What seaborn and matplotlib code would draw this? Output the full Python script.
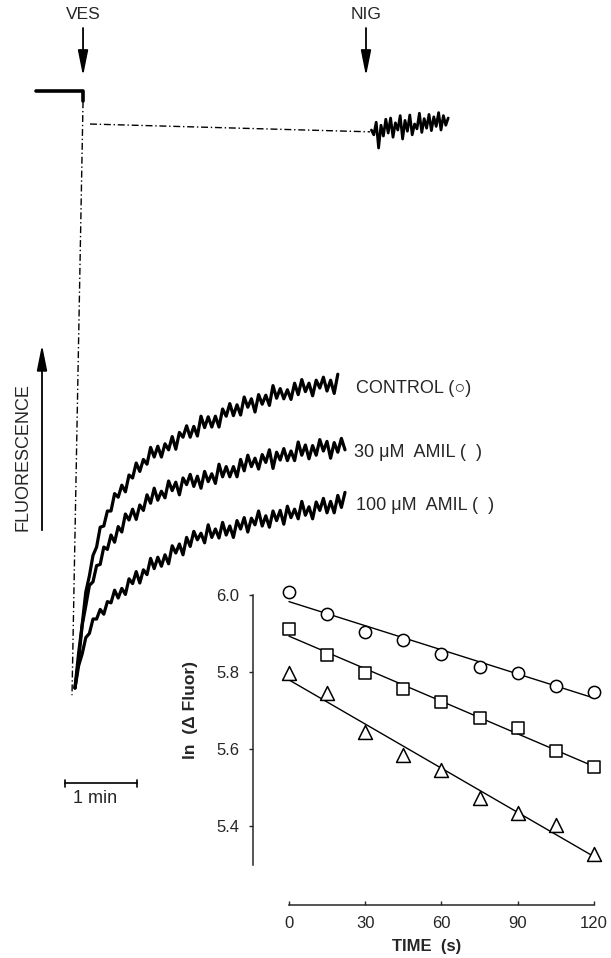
import numpy as np
import pandas as pd
import seaborn as sns
import matplotlib.pyplot as plt

# registro de fluorescencia (tempo em s, fluorescencia em unidades arbitrarias)
trace_t = [0, 3, 6, 9, 12, 15, 18, 21, 24, 27, 30, 33, 36, 39, 42, 45, 48, 51, 54, 57,
           60, 63, 66, 69, 72, 75, 78, 81, 84, 87, 90, 93, 96, 99, 102, 105, 108, 111, 114, 117,
           120, 123, 126, 129, 132, 135, 138, 141, 144, 147, 150, 153, 156, 159, 162, 165, 168, 171, 174, 177,
           180, 183, 186, 189, 192, 195, 198, 201, 204, 207, 210, 213, 216, 219, 222, 225]

control = [2.0, 7.8, 12.6, 18.0, 20.7, 24.1, 25.5, 28.8, 29.0, 31.5, 31.5, 34.4, 33.8, 35.8, 34.7, 37.5,
           37.0, 39.5, 38.1, 40.1, 39.3, 42.1, 40.5, 42.3, 40.5, 42.7, 41.7, 43.9, 41.8, 44.6, 43.8, 45.7,
           43.8, 45.6, 44.0, 47.3, 45.4, 47.2, 45.5, 47.3, 45.5, 48.5, 47.3, 49.4, 47.4, 49.2, 47.5, 50.5,
           48.8, 50.2, 48.0, 50.9, 49.3, 50.8, 49.1, 52.4, 50.3, 51.9, 50.2, 51.7, 50.1, 52.8, 50.9, 53.4,
           51.4, 52.8, 50.7, 53.3, 52.0, 53.8, 51.5, 53.3, 51.1, 54.3]

amil_30 = [2.0, 6.6, 12.5, 15.7, 19.1, 19.7, 22.4, 22.6, 25.5, 25.1, 27.5, 26.3, 28.9, 28.0, 31.0, 30.0,
           31.8, 30.1, 32.5, 31.6, 34.2, 32.8, 35.3, 33.3, 34.8, 33.7, 36.5, 34.9, 36.3, 34.2, 37.0, 35.9,
           37.6, 35.6, 37.3, 35.3, 38.1, 36.4, 37.7, 36.1, 39.3, 37.2, 38.9, 37.2, 38.9, 37.2, 40.1, 38.2,
           40.8, 38.9, 40.3, 38.5, 40.9, 39.6, 41.7, 38.6, 41.3, 40.0, 41.9, 39.9, 41.5, 39.9, 43.0, 40.8,
           42.5, 40.2, 42.4, 40.8, 43.4, 41.5, 43.1, 40.3, 42.9, 41.3, 43.6, 41.7]

amil_100 = [2.0, 5.7, 7.7, 10.4, 11.1, 13.5, 13.5, 15.1, 14.3, 16.4, 16.2, 18.3, 17.0, 18.6, 17.6, 20.2,
            19.4, 21.4, 19.5, 21.7, 20.9, 23.6, 21.9, 23.8, 22.3, 24.2, 22.7, 25.7, 24.5, 26.0, 24.2, 27.1,
            25.6, 28.1, 26.7, 27.8, 26.2, 29.2, 27.1, 28.5, 27.0, 29.6, 27.5, 29.0, 27.1, 29.9, 28.5, 30.4,
            28.0, 30.3, 29.2, 31.5, 29.0, 30.7, 28.8, 31.5, 29.9, 31.6, 29.3, 32.3, 30.4, 31.8, 30.2, 33.1,
            30.8, 32.2, 30.2, 33.0, 31.6, 33.6, 31.2, 33.1, 31.2, 34.1, 32.1, 34.6]

trace_labels = ["CONTROL (\u25cb)", "30 \u03bcM  AMIL (  )", "100 \u03bcM  AMIL (  )"]

# antes das vesiculas, linha de base e nigericina
base_t = [-32.5, 6.7, 6.7]
base_f = [101.5, 101.5, 99.8]
drop_t = [6.7, -2.5]
drop_f = [99.8, 0.8]
level_t = [12.5, 245.8]
level_f = [96.0, 94.7]
nig_t = [247, 249, 251, 253, 255, 257, 259, 261, 263, 265, 267, 269, 271, 273, 275, 277, 279,
         281, 283, 285, 287, 289, 291, 293, 295, 297, 299, 301, 303, 305, 307, 309, 311]
nig_f = [95.0, 94.2, 96.3, 92.0, 95.8, 94.0, 96.8, 94.5, 97.0, 93.8, 96.2, 95.0, 97.4, 93.5, 96.6, 94.8,
         97.5, 94.2, 96.0, 95.2, 97.8, 94.6, 96.9, 95.3, 97.6, 94.9, 97.2, 95.6, 97.9, 95.0, 97.4, 95.8, 97.0]

events = ["VES", "NIG"]
event_t = [6.7, 242.5]

# inserto: ln(delta fluor) x tempo
inset_t = [0, 15, 30, 45, 60, 75, 90, 105, 120]
ln_control = [6.007, 5.952, 5.905, 5.883, 5.847, 5.814, 5.797, 5.765, 5.749]
ln_30 = [5.912, 5.844, 5.797, 5.756, 5.723, 5.680, 5.654, 5.596, 5.554]
ln_100 = [5.797, 5.745, 5.645, 5.584, 5.545, 5.472, 5.433, 5.403, 5.327]

sns.set_style("ticks")
plt.rcParams["font.family"] = ["Liberation Sans", "DejaVu Sans"]

fig = plt.figure(figsize=(6.11, 9.58), dpi=100)

# painel principal (registro)
ax = fig.add_axes([0, 0, 1, 1])
ax.set_xlim(-62.5, 446.67)
ax.set_ylim(-43, 116.67)
ax.axis("off")

dashdot = (0, (5, 2, 1, 2))
for vals in [control, amil_30, amil_100]:
    sns.lineplot(x=trace_t[:len(vals)], y=vals, ax=ax, color="black", lw=2.3,
                 sort=False, estimator=None)

sns.lineplot(x=base_t, y=base_f, ax=ax, color="black", lw=2.6, sort=False, estimator=None)
sns.lineplot(x=drop_t, y=drop_f, ax=ax, color="black", lw=1.0, linestyle=dashdot,
             sort=False, estimator=None)
sns.lineplot(x=level_t, y=level_f, ax=ax, color="black", lw=1.0, linestyle=dashdot,
             sort=False, estimator=None)
sns.lineplot(x=nig_t, y=nig_f, ax=ax, color="black", lw=2.0, sort=False, estimator=None)

arrow = dict(arrowstyle="-|>,head_width=0.22,head_length=1.1", color="black", lw=1.3,
             shrinkA=0, shrinkB=0, mutation_scale=14)
for name, t in zip(events, event_t):
    ax.annotate("", xy=(t, 104.0), xytext=(t, 112.0), arrowprops=arrow)
    ax.text(t, 114.2, name, ha="center", va="center", fontsize=12.5)

ax.annotate("", xy=(-27.5, 59.2), xytext=(-27.5, 28.3), arrowprops=arrow)
ax.text(-43.0, 40.5, "FLUORESCENCE", rotation=90, ha="center", va="center", fontsize=13)

for label, vals, x0 in zip(trace_labels, [52.0, 41.3, 32.5], [234.2, 232.5, 234.2]):
    ax.text(x0, vals, label, ha="left", va="center", fontsize=13)

# barra de escala de 1 min
ax.plot([-8.3, 51.7], [-13.8, -13.8], color="black", lw=1.2)
ax.plot([-8.3, -8.3], [-13.3, -14.5], color="black", lw=1.2)
ax.plot([51.7, 51.7], [-13.3, -14.5], color="black", lw=1.2)
ax.text(16.7, -16.4, "1 min", ha="center", va="center", fontsize=13)

# inserto
ax2 = fig.add_axes([253 / 611, 53 / 958, 341 / 611, 325 / 958])
ax2.patch.set_alpha(0)
for vals, mk, size in [(ln_control, "o", 78), (ln_30, "s", 72), (ln_100, "^", 100)]:
    sns.regplot(x=inset_t, y=vals, ax=ax2, scatter=False, ci=None, truncate=True,
                color="black", line_kws={"lw": 1.0})
    sns.scatterplot(x=inset_t, y=vals, ax=ax2, marker=mk, s=size, color="white",
                    edgecolor="black", linewidth=1.1, clip_on=False, zorder=3)

ax2.set_xlim(-14.16, 120)
ax2.set_ylim(5.195, 6.039)
ax2.set_xticks([0, 30, 60, 90, 120])
ax2.set_yticks([5.4, 5.6, 5.8, 6.0])
ax2.set_yticklabels(["5.4", "5.6", "5.8", "6.0"])
sns.despine(ax=ax2)
ax2.spines["left"].set_bounds(5.3, 6.0)
ax2.spines["bottom"].set_bounds(0, 120)
for sp in ["left", "bottom"]:
    ax2.spines[sp].set_linewidth(1.1)
ax2.tick_params(axis="y", direction="out", length=3, width=1, pad=7, labelsize=12)
ax2.tick_params(axis="x", direction="in", length=3, width=1, pad=8, labelsize=12)
ax2.set_xlabel("TIME  (s)", fontsize=12, fontweight="bold")
ax2.set_ylabel("ln  (\u0394 Fluor)", fontsize=12.5, fontweight="bold")
ax2.xaxis.set_label_coords(0.51, -0.105)
ax2.yaxis.set_label_coords(-0.16, 0.6)

fig.savefig("out.png", dpi=100)
